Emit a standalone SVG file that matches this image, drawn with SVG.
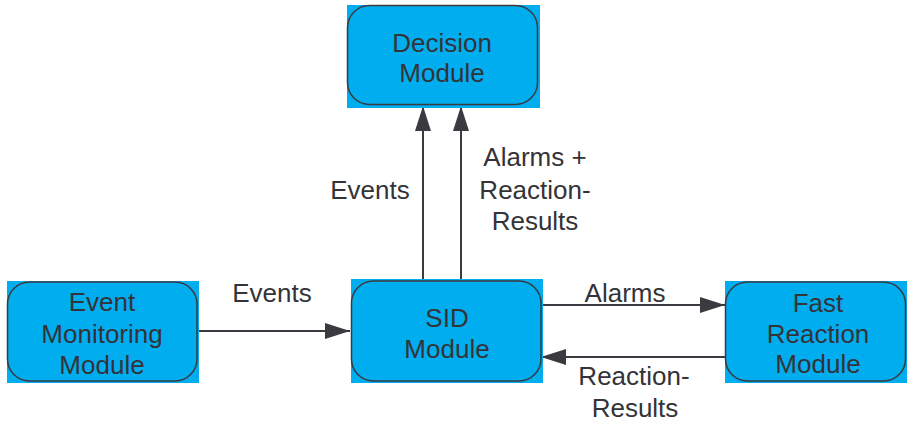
<svg xmlns="http://www.w3.org/2000/svg" width="907" height="425" viewBox="0 0 907 425">
  <style>
    .bg { fill: #00adee; }
    .frame { fill: none; stroke: #3a3a40; stroke-width: 1.5; }
    .t { font-family: "Liberation Sans", Arial, sans-serif; font-size: 26px; fill: #333338; text-anchor: middle; }
    .edge { stroke: #3a3a40; stroke-width: 2; fill: none; marker-end: url(#arrow); }
  </style>
  <defs>
    <marker id="arrow" markerUnits="userSpaceOnUse" markerWidth="26" markerHeight="18" refX="25" refY="8" orient="auto">
      <path d="M0,0 L25,8 L0,16 Z" fill="#3a3a40"/>
    </marker>
  </defs>

  <rect width="907" height="425" fill="#ffffff"/>

  <g id="connectors">
    <line class="edge" x1="197" y1="331" x2="350" y2="331"/>
    <line class="edge" x1="542" y1="305" x2="725" y2="305"/>
    <line class="edge" x1="725" y1="357" x2="541" y2="357"/>
    <line class="edge" x1="423" y1="282" x2="423" y2="106"/>
    <line class="edge" x1="461" y1="282" x2="461" y2="106"/>
    <text class="t" x="272" y="302">Events</text>
    <text class="t" x="625" y="302">Alarms</text>
    <text class="t" x="634" y="385">Reaction-</text>
    <text class="t" x="635" y="417">Results</text>
    <text class="t" x="370" y="199">Events</text>
    <text class="t" x="535" y="166">Alarms +</text>
    <text class="t" x="535" y="199">Reaction-</text>
    <text class="t" x="535" y="230">Results</text>
  </g>

  <g id="decision">
    <rect class="bg" x="347" y="5" width="193" height="103"/>
    <rect class="frame" x="347.5" y="5.5" width="190" height="99" rx="22"/>
    <text class="t" x="442" y="52">Decision</text>
    <text class="t" x="442" y="82">Module</text>
  </g>

  <g id="event-monitoring">
    <rect class="bg" x="7" y="281" width="192" height="102"/>
    <rect class="frame" x="7.5" y="282" width="189.5" height="99" rx="22"/>
    <text class="t" x="102" y="311">Event</text>
    <text class="t" x="102" y="343">Monitoring</text>
    <text class="t" x="102" y="374">Module</text>
  </g>

  <g id="sid">
    <rect class="bg" x="351" y="279" width="192" height="104"/>
    <rect class="frame" x="351.5" y="281" width="189.5" height="100" rx="22"/>
    <text class="t" x="447" y="327">SID</text>
    <text class="t" x="447" y="358">Module</text>
  </g>

  <g id="fast-reaction">
    <rect class="bg" x="725" y="281" width="182" height="102"/>
    <rect class="frame" x="725.5" y="282" width="180" height="99" rx="22"/>
    <text class="t" x="818" y="312">Fast</text>
    <text class="t" x="818" y="343">Reaction</text>
    <text class="t" x="818" y="373">Module</text>
  </g>
</svg>
